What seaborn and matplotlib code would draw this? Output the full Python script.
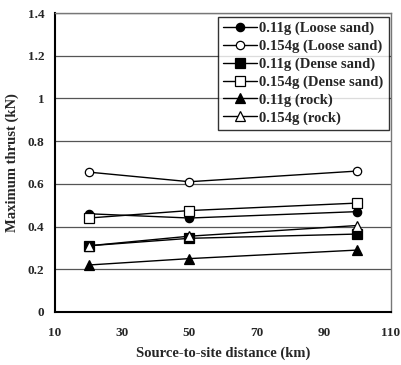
import matplotlib
matplotlib.use("Agg")
import matplotlib.pyplot as plt
import seaborn as sns
import pandas as pd

distance = [20, 50, 100]
loose_011 = [0.46, 0.44, 0.47]
loose_0154 = [0.655, 0.61, 0.66]
dense_011 = [0.31, 0.345, 0.365]
dense_0154 = [0.44, 0.475, 0.51]
rock_011 = [0.22, 0.25, 0.29]
rock_0154 = [0.31, 0.355, 0.405]

series = [
    ("0.11g (Loose sand)", loose_011, "o", "black"),
    ("0.154g (Loose sand)", loose_0154, "o", "white"),
    ("0.11g (Dense sand)", dense_011, "s", "black"),
    ("0.154g (Dense sand)", dense_0154, "s", "white"),
    ("0.11g (rock)", rock_011, "^", "black"),
    ("0.154g (rock)", rock_0154, "^", "white"),
]

sns.set_style("white")
plt.rcParams["font.family"] = ["Liberation Serif", "DejaVu Serif"]
plt.rcParams["font.weight"] = "bold"

fig = plt.figure(figsize=(4.01, 3.65), dpi=100)
ax = fig.add_axes([55 / 401, 1 - 312 / 365, 336 / 401, 299 / 365])

for name, vals, mk, fc in series:
    df = pd.DataFrame({"d": distance, "v": vals})
    sns.lineplot(data=df, x="d", y="v", ax=ax, color="black", linewidth=1.0,
                 marker=mk, markersize=6.5 if mk != "o" else 6,
                 markerfacecolor=fc, markeredgecolor="black", markeredgewidth=0.9,
                 label=name)

ax.set_xlim(10, 110)
ax.set_ylim(0, 1.4)
ax.set_xticks([10, 30, 50, 70, 90, 110])
ax.set_yticks([0, 0.2, 0.4, 0.6, 0.8, 1, 1.2, 1.4])
ax.set_yticklabels(["0", "0.2", "0.4", "0.6", "0.8", "1", "1.2", "1.4"])
ax.grid(axis="y", color="#555555", linewidth=0.9)
ax.set_axisbelow(True)
ax.tick_params(axis="x", direction="in", length=4, width=1, labelsize=9.5, pad=10.5)
ax.tick_params(axis="y", length=0, labelsize=9.5, pad=7.5)
for lab in ax.get_xticklabels() + ax.get_yticklabels():
    lab.set_fontweight("bold")

for side in ["left", "bottom"]:
    ax.spines[side].set_color("black")
    ax.spines[side].set_linewidth(1.5)
for side in ["top", "right"]:
    ax.spines[side].set_color("#777777")
    ax.spines[side].set_linewidth(1.0)

ax.set_xlabel("Source-to-site distance (km)", fontsize=10.5, fontweight="bold", labelpad=5.5)
ax.set_ylabel("Maximum thrust (kN)", fontsize=10.5, fontweight="bold", labelpad=6)

leg = ax.legend(loc="upper right", bbox_to_anchor=(1.0, 0.995), frameon=True,
                fancybox=False, edgecolor="black", fontsize=10.5, handlelength=2.3,
                handletextpad=0.2, labelspacing=0.3, borderpad=0.35, borderaxespad=0.15)
leg.get_frame().set_linewidth(1.0)
for t in leg.get_texts():
    t.set_fontweight("bold")

fig.savefig("out.png", dpi=100)
